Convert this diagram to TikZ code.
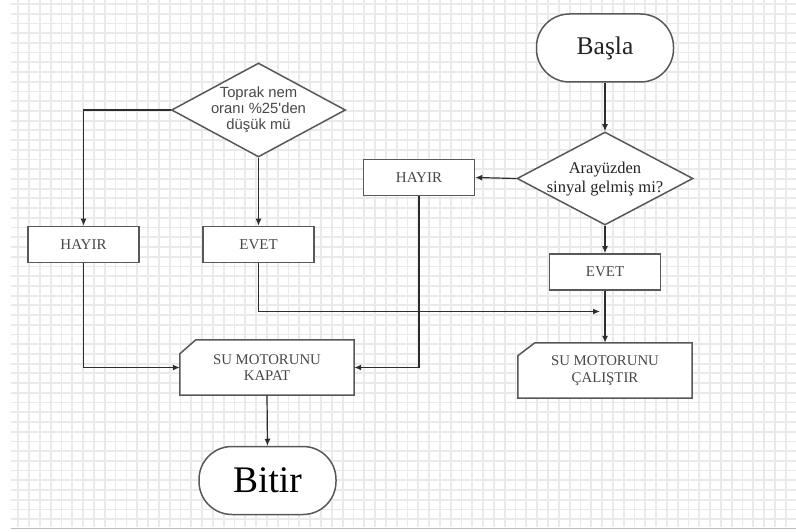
\documentclass[tikz,border=0pt]{standalone}
\usepackage{fontspec}
\setmainfont{Liberation Serif}
\newfontfamily\diafont{Liberation Sans}
\usetikzlibrary{shapes.geometric,arrows.meta}

\pgfdeclarelayer{paper}
\pgfdeclarelayer{under}
\pgfsetlayers{paper,under,main}

\definecolor{gridc}{RGB}{234,234,234}
\definecolor{edgec}{RGB}{88,88,88}
\definecolor{wirec}{RGB}{45,45,45}
\definecolor{ink}{RGB}{72,72,72}
\definecolor{darkink}{RGB}{35,35,35}

\tikzset{
  boxline/.style={draw=edgec, line width=1.5pt},
  procbox/.style={boxline, fill=white, rectangle, inner sep=0pt,
    minimum width=111pt, minimum height=36pt, text=ink,
    font=\fontsize{15}{16}\selectfont},
  terminal/.style={boxline, fill=white, rectangle, rounded corners=33pt,
    inner sep=0pt, minimum width=137pt, minimum height=68pt},
  decision/.style={boxline, fill=white, diamond, inner sep=0pt},
  dlabel/.style={align=center, inner sep=0pt},
  cutbox/.style={rectangle, inner sep=0pt, minimum width=174pt,
    minimum height=55pt, text=ink, align=center,
    font=\fontsize{14.8}{16.5}\selectfont},
  flow/.style={draw=wirec, line width=1.2pt, -{Latex[length=7pt,width=6pt]}},
  gridline/.style={draw=gridc, line width=1.8pt},
}

\begin{document}
\begin{tikzpicture}[x=1pt, y=-1pt]
\useasboundingbox (0,0) rectangle (796,532);

% squared paper
\begin{pgfonlayer}{paper}
  \fill[white] (0,0) rectangle (796,532);
  \foreach \k in {0,...,72}
    \draw[gridline] ({18.3+10.81*\k},0) -- ({18.3+10.81*\k},527);
  \foreach \k in {0,...,53}
    \draw[gridline] (11,{4+9.72*\k}) -- (796,{4+9.72*\k});
  \draw[draw={rgb,255:red,190;green,190;blue,190}, line width=1.2pt] (11,528.5) -- (796,528.5);
\end{pgfonlayer}

% right branch: interface signal
\node[terminal, text=darkink, font=\fontsize{25.5}{28}\selectfont] (basla) at (605,48) {Başla};
\node[decision, minimum width=176pt, minimum height=93pt] (askd) at (605,178.5) {};
\node[dlabel, text=darkink, font=\fontsize{16.5}{18.3}\selectfont] (askt) at (605,179) {Arayüzden\\sinyal gelmiş mi?};
\node[procbox] (noR) at (419,177.5) {HAYIR};
\node[procbox] (yesR) at (605,272) {EVET};
\node[cutbox] (run) at (605,370.5) {SU MOTORUNU\\ÇALIŞTIR};

% left branch: soil moisture
\node[decision, minimum width=174pt, minimum height=94pt] (soil) at (258.5,110) {};
\node[dlabel, text=ink, font=\diafont\fontsize{14.8}{16}\selectfont] (soilt) at (258.5,109.5) {Toprak nem\\oranı \%25'den\\düşük mü};
\node[procbox] (noL) at (83.5,244.5) {HAYIR};
\node[procbox] (yesL) at (258.5,244.5) {EVET};
\node[cutbox] (stop) at (267,367.5) {SU MOTORUNU\\KAPAT};
\node[terminal, text=black, font=\fontsize{37.5}{40}\selectfont] (bitir) at (267.5,480.5) {Bitir};

% outlines of the boxes with a cut corner
\begin{pgfonlayer}{under}
  \path[boxline, fill=white] ([yshift=-13pt]run.north west) -- ([xshift=17pt]run.north west)
    -- (run.north east) -- (run.south east) -- (run.south west) -- cycle;
  \path[boxline, fill=white] ([yshift=-14pt]stop.north west) -- ([xshift=16pt]stop.north west)
    -- (stop.north east) -- (stop.south east) -- (stop.south west) -- cycle;
\end{pgfonlayer}

% connectors
\coordinate (meet) at (600,311.5);
\draw[flow] (basla.south) -- (askd.north);
\draw[flow] (askd.west) -- (noR.east);
\draw[flow] (askd.south) -- (yesR.north);
\draw[flow] (yesR.south) -- (run.north);
\draw[flow] (yesL.south) |- (meet);
\draw[flow] (noR.south) |- (stop.east);
\draw[flow] (noL.south) |- (stop.west);
\draw[flow] (soil.west) -| (noL.north);
\draw[flow] (soil.south) -- (yesL.north);
\draw[flow] (stop.south) -- (bitir.north);
\end{tikzpicture}
\end{document}
